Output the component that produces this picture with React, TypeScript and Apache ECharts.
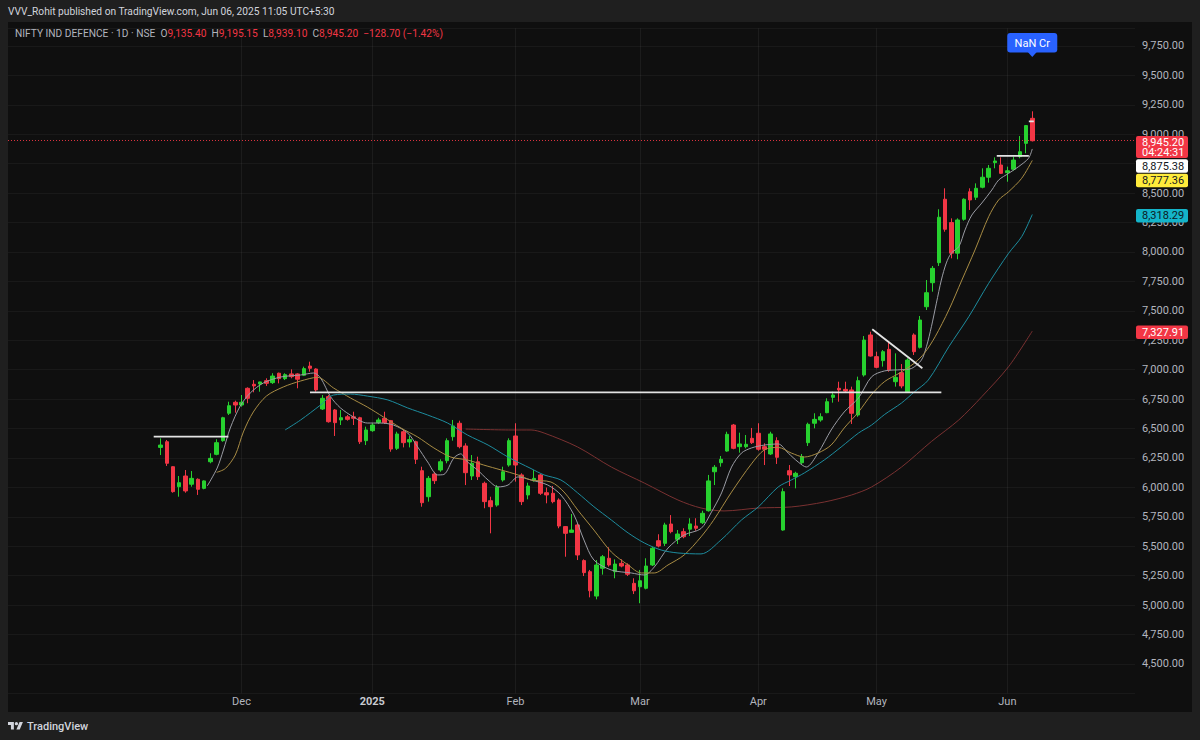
import React, { useEffect, useRef } from "react";
import * as echarts from "echarts";

// ---------- data ----------
const PAD_LEFT = 24;
const PAD_RIGHT = 16;

const opens = [6340,6388,6176,6006,6097,6027,6069,5992,6218,6281, 6397,6630,6723,6700,6842,6876,6879,6907,6890,6970, 6924,6964,6964,6953,7031,7006,6666,6771,6658,6573, 6600,6600,6592,6397,6482,6550,6587,6567,6332,6473, 6386,6388,6142,5921,6114,6148,6227,6431,6545,6352, 6097,6218,6035,5887,5850,6063,6190,6437,6106,5936, 6057,6106,5955,5950,5893,5667,5618,5681,5378,5284, 5077,5313,5398,5284,5355,5341,5185,5156,5143,5341, 5547,5525,5689,5559,5624,5645,5672,5700,5802,6133, 6210,6309,6530,6346,6346,6417,6460,6346,6284,6397, 5638,6142,6091,6210,6380,6545,6573,6635,6765,6842, 6833,6828,6615,6955,7295,7111,7077,7173,6898,6975, 6813,7295,7190,7535,7739,7909,8448,8250,7990,8278, 8512,8465,8550,8635,8759,8739,8674,8703,8810,8923, 9135.40];
const highs = [6417,6403,6180,6097,6148,6139,6077,6060,6290,6409, 6600,6728,6737,6785,6850,6912,6898,6927,6970,6975, 6970,7003,6970,7026,7068,7012,6785,6785,6666,6658, 6615,6643,6600,6516,6545,6592,6643,6573,6473,6488, 6437,6397,6176,6097,6133,6239,6417,6573,6567,6375, 6275,6261,6049,5921,6020,6176,6417,6545,6120,6040, 6148,6114,5999,6012,5907,5672,5774,5695,5389,5299, 5383,5426,5491,5389,5389,5355,5228,5299,5398,5497, 5602,5700,5765,5638,5653,5738,5738,5802,6106,6190, 6267,6473,6539,6465,6445,6505,6545,6375,6473,6426, 5992,6190,6133,6284,6550,6630,6630,6757,6813,6898, 6898,6856,6941,7286,7323,7153,7167,7238,7139,7048, 7097,7309,7456,7762,7881,8363,8541,8286,8286,8456, 8541,8583,8711,8739,8804,8804,8725,8810,8985,9079, 9195.15];
const lows = [6275,6182,5955,5921,5955,6006,5936,5984,6205,6273, 6388,6615,6635,6686,6715,6808,6813,6862,6879,6884, 6912,6927,6842,6946,6983,6813,6658,6550,6437,6530, 6567,6530,6369,6360,6473,6539,6539,6303,6318,6340, 6340,6199,5836,5879,6029,6133,6205,6397,6332,6020, 6063,6063,5823,5610,5836,6049,6176,6049,5850,5899, 6049,5936,5865,5865,5653,5411,5616,5383,5247,5066, 5049,5259,5327,5228,5321,5247,5094,5016,5134,5332, 5491,5502,5610,5519,5568,5587,5632,5689,5794,6020, 6176,6303,6324,6295,6332,6369,6312,6190,6275,6199, 5632,6012,5992,6199,6352,6502,6558,6630,6720,6728, 6805,6539,6600,6941,7111,7012,7026,6983,6856,6842, 6805,7125,7180,7507,7663,7881,8172,7946,7938,8266, 8357,8442,8541,8589,8711,8663,8597,8691,8796,8839, 8939.10];
const closes = [6360,6205,5964,6040,5970,6077,5984,6055,6247,6380, 6592,6694,6700,6723,6757,6862,6896,6884,6946,6924, 6958,6941,6919,7009,7012,6828,6757,6558,6550,6592, 6578,6587,6388,6488,6530,6573,6550,6326,6454,6380, 6406,6239,5870,6077,6057,6218,6397,6522,6346,6125, 6205,6091,5879,5836,6001,6133,6397,6190,5879,6012, 6077,5950,5936,5879,5672,5610,5638,5426,5276,5122, 5341,5411,5341,5349,5332,5262,5122,5207,5332,5483, 5502,5681,5624,5604,5581,5690,5653,5780,6055,6171, 6239,6451,6332,6369,6366,6380,6324,6324,6454,6256, 5964,6106,6120,6261,6536,6578,6600,6728,6785,6828, 6819,6630,6907,7252,7116,7020,7153,6997,6935,6862, 7082,7153,7422,7654,7861,8295,8193,7990,8272,8448, 8442,8541,8635,8711,8773,8668,8690,8781,8852,9073.90, 8945.20];

const monthLabels = ["Dec", "2025", "Feb", "Mar", "Apr", "May", "Jun"];
const monthStartBars = [13, 34, 57, 77, 96, 115, 136];

// moving averages: [bar index, value]
const ma5Points = [[7.5,6012],[9.1,6165],[10.1,6318],[11.2,6505],[12.8,6692],[14.4,6802],[16.5,6887],[19.3,6938],[22.5,6955],[24.6,6972],[25.7,6930],[27.3,6771],[28.9,6675],[31.0,6598],[33.2,6547],[35.3,6547],[37.4,6530],[39.7,6462],[41.3,6343],[42.9,6216],[44.5,6106],[45.5,6110],[47.1,6250],[48.2,6285],[49.3,6216],[50.9,6148],[52.6,6063],[54.2,6004],[55.8,6020],[57.4,6089],[59.5,6063],[62.2,6020],[64.3,5936],[66.4,5766],[68.0,5553],[69.6,5383],[72.4,5298],[75.6,5273],[77.7,5256],[79.3,5324],[81.5,5485],[84.1,5596],[86.8,5650],[88.4,5783],[90.1,5953],[91.7,6173],[93.3,6292],[94.9,6335],[97.0,6360],[99.2,6369],[100.8,6292],[102.4,6216],[103.7,6173],[105.6,6292],[107.7,6488],[109.8,6641],[112.1,6760],[114.2,6940],[116.3,6990],[119.0,7000],[120.6,7010],[122.2,7082],[123.0,7195],[123.8,7365],[124.6,7565],[125.4,7762],[126.2,7907],[127.0,7991],[128.2,8045],[129.2,8187],[130.3,8314],[131.9,8416],[133.5,8526],[134.6,8611],[136.2,8668],[137.8,8725],[139.4,8796],[140,8875.38]];
const ma10Points = [[9.0,6128],[10.4,6160],[12.0,6275],[13.3,6471],[14.9,6641],[17.0,6776],[19.7,6853],[22.5,6904],[25.2,6935],[27.8,6844],[30.5,6760],[33.2,6683],[35.8,6598],[38.6,6505],[41.3,6428],[43.9,6335],[46.6,6258],[49.3,6233],[51.9,6190],[54.7,6148],[57.4,6106],[59.5,6063],[62.7,6046],[64.8,5961],[67.0,5808],[69.6,5638],[72.4,5451],[75.1,5341],[77.2,5273],[79.3,5273],[81.5,5341],[84.1,5426],[86.8,5580],[88.8,5720],[91.7,5960],[94.9,6200],[97.0,6320],[99.2,6340],[101.3,6292],[103.4,6258],[105.6,6292],[107.7,6360],[109.8,6505],[112.1,6641],[114.2,6790],[116.3,6900],[118.6,6969],[121.1,7057],[122.7,7142],[124.4,7280],[126.6,7507],[128.7,7762],[130.8,8017],[133.0,8300],[134.6,8442],[136.2,8512],[138.3,8626],[140,8777.36]];
const ma20Points = [[20.0,6488],[22.5,6573],[25.7,6700],[27.8,6785],[30.5,6793],[33.2,6776],[36.5,6743],[39.7,6675],[42.9,6615],[46.1,6547],[49.3,6445],[52.6,6360],[55.8,6258],[59.5,6160],[61.6,6106],[64.3,6063],[67.0,5953],[69.6,5836],[72.4,5723],[75.1,5613],[77.7,5528],[80.4,5468],[83.1,5443],[86.8,5435],[90.0,5553],[93.3,5723],[96.0,5834],[99.2,6004],[101.3,6063],[103.4,6123],[106.6,6233],[109.3,6343],[112.1,6462],[114.2,6530],[116.3,6620],[119.0,6717],[121.1,6813],[123.3,6912],[126.6,7195],[129.8,7450],[133.0,7734],[136.2,7989],[138.3,8130],[140,8318.29]];
const ma50Points = [[49.0,6496],[56.3,6488],[59.5,6488],[61.6,6462],[67.0,6343],[72.4,6173],[77.7,6037],[83.1,5893],[86.8,5825],[90.5,5800],[96.0,5825],[101.3,5834],[106.6,5876],[111.0,5936],[114.2,6004],[119.0,6173],[123.8,6390],[128.2,6573],[131.9,6771],[136.2,7026],[140,7327.91]];

// hand-drawn trend lines: [[bar, price], [bar, price]]
const drawnLines = [
  [[-1.1, 6431], [10.9, 6431]],
  [[24.0, 6808], [125.4, 6808]],
  [[114.3, 7343], [122.35, 7012]],
  [[134.3, 8816], [139.45, 8816]],
  [[139.45, 9110], [140.25, 9110]],
];

const yMin = 4250;
const yMax = 9900;
const yStep = 250;
const yLabelMin = 4500;
const yLabelMax = 9750;
const yTicksCoveredByBadges = [8750];

const symbolTitle = "NIFTY IND DEFENCE · 1D · NSE";
const publishedText = "VVV_Rohit published on TradingView.com, Jun 06, 2025 11:05 UTC+5:30";
const lastChange = -128.7;
const lastChangePct = -1.42;
const timerText = "04:24:31";
const volumeBadgeText = "NaN Cr";
const maLastValues = [8875.38, 8777.36, 8318.29, 7327.91];

// ---------- styles ----------
const FONT = 'Roboto, "Noto Sans", "DejaVu Sans", sans-serif';
const UP = "#27d12f";
const DOWN = "#f23645";
const TEXT = "#b2b5be";
const MA_COLORS = ["#9a9ca4", "#a88c44", "#1d8c9e", "#7a3131"];

const fmt = (v: number) =>
  v.toLocaleString("en-US", { minimumFractionDigits: 2, maximumFractionDigits: 2 });

const tvPath =
  "M14 22H7V11H0V4h14v18z M28 22h-8l7.5-18h8L28 22z M16 8a4 4 0 1 0 8 0a4 4 0 1 0 -8 0z";

let registered = false;

export default function App() {
  const ref = useRef<HTMLDivElement>(null);

  useEffect(() => {
    if (!ref.current) return;
    if (!registered) {
      echarts.graphic.registerShape("tvlogo", echarts.graphic.extendPath(tvPath, {}) as any);
      registered = true;
    }
    const chart = echarts.init(ref.current, null, { renderer: "svg" });
    const n = opens.length;
    const total = PAD_LEFT + n + PAD_RIGHT;
    const cats = Array.from({ length: total }, (_, i) => String(i));
    const labelAt: Record<number, string> = {};
    monthStartBars.forEach((b, k) => {
      labelAt[b + PAD_LEFT] = monthLabels[k];
    });
    const candleData = opens.map((o, i) => [i + PAD_LEFT, o, closes[i], lows[i], highs[i]]);
    const last = n - 1;

    const maSeries = [ma5Points, ma10Points, ma20Points, ma50Points].map((pts, k) => ({
      type: "line",
      xAxisIndex: 1,
      yAxisIndex: 0,
      data: pts,
      smooth: 0.3,
      showSymbol: false,
      silent: true,
      z: k === 3 ? 1 : 3,
      lineStyle: { color: MA_COLORS[k], width: 1 },
      markLine:
        k === 3
          ? {
              silent: true,
              symbol: ["none", "none"],
              label: { show: false },
              lineStyle: { color: "rgba(255,255,255,0.055)", type: "solid", width: 1 },
              data: monthStartBars.map((b) => ({ xAxis: b })),
            }
          : undefined,
    }));

    const lineSeries = drawnLines.map((seg) => ({
      type: "line",
      xAxisIndex: 1,
      yAxisIndex: 0,
      data: seg,
      showSymbol: false,
      silent: true,
      z: 4,
      lineStyle: { color: "#e4e4e4", width: 1.8 },
    }));

    const option: any = {
      animation: false,
      backgroundColor: "#0f0f0f",
      grid: { left: 8, right: 65, top: 28.34, bottom: 46.6, containLabel: false },
      xAxis: [
        {
          type: "category",
          data: cats,
          boundaryGap: true,
          axisLine: { show: false },
          axisTick: { show: false },
          splitLine: { show: false },
          axisLabel: {
            interval: (idx: number) => labelAt[idx] !== undefined,
            formatter: (_v: string, idx: number) =>
              labelAt[idx] === "2025" ? "{b|2025}" : labelAt[idx] || "",
            color: TEXT,
            fontSize: 11,
            fontFamily: FONT,
            margin: 3,
            hideOverlap: false,
            rich: { b: { fontWeight: "bold", color: "#c8cad0", fontSize: 11, fontFamily: FONT } },
          },
        },
        {
          type: "value",
          min: -PAD_LEFT - 0.5,
          max: n + PAD_RIGHT - 0.5,
          show: false,
        },
      ],
      yAxis: {
        type: "value",
        position: "right",
        min: yMin,
        max: yMax,
        interval: yStep,
        axisLine: { show: false },
        axisTick: { show: false },
        splitLine: { lineStyle: { color: "rgba(255,255,255,0.045)", width: 1 } },
        axisLabel: {
          color: TEXT,
          fontSize: 11,
          fontFamily: FONT,
          margin: 7,
          formatter: (v: number) =>
            v < yLabelMin || v > yLabelMax || yTicksCoveredByBadges.includes(v) ? "" : fmt(v),
        },
      },
      series: [
        {
          type: "candlestick",
          xAxisIndex: 0,
          yAxisIndex: 0,
          dimensions: ["idx", "open", "close", "lowest", "highest"],
          encode: { x: 0, y: [1, 2, 3, 4] },
          data: candleData,
          barWidth: 4,
          z: 2,
          itemStyle: {
            color: UP,
            color0: DOWN,
            borderColor: UP,
            borderColor0: DOWN,
            borderWidth: 1,
          },
          markLine: {
            silent: true,
            symbol: ["none", "none"],
            label: { show: false },
            data: [
              {
                yAxis: closes[last],
                lineStyle: { color: DOWN, type: [1, 2], width: 1, opacity: 0.9 },
              },
            ],
          },
        },
        ...maSeries,
        ...lineSeries,
      ],
    };
    chart.setOption(option);

    const py = (v: number) => chart.convertToPixel({ yAxisIndex: 0 }, v) as number;
    const px = (idx: number) => chart.convertToPixel({ xAxisIndex: 0 }, idx) as number;

    const FR = "#1f1f1f";
    const g: any[] = [];
    // frame around the panel
    g.push({ type: "rect", shape: { x: 0, y: 0, width: 1200, height: 22 }, style: { fill: FR }, z: 100, silent: true });
    g.push({ type: "rect", shape: { x: 0, y: 0, width: 8, height: 740 }, style: { fill: FR }, z: 100, silent: true });
    g.push({ type: "rect", shape: { x: 1192, y: 0, width: 8, height: 740 }, style: { fill: FR }, z: 100, silent: true });
    g.push({ type: "rect", shape: { x: 0, y: 712, width: 1200, height: 28 }, style: { fill: FR }, z: 100, silent: true });

    g.push({
      type: "text",
      x: 8,
      y: 11,
      z: 101,
      silent: true,
      style: { text: publishedText, fill: "#d1d4dc", fontSize: 10.2, fontFamily: FONT, verticalAlign: "middle" },
    });

    const sign = lastChange < 0 ? "−" : "+";
    const chg = `${sign}${fmt(Math.abs(lastChange))} (${sign}${Math.abs(lastChangePct).toFixed(2)}%)`;
    const legend =
      `{n|${symbolTitle}}  {k|O}{v|${fmt(opens[last])}}  {k|H}{v|${fmt(highs[last])}}  ` +
      `{k|L}{v|${fmt(lows[last])}}  {k|C}{v|${fmt(closes[last])}}  {v|${chg}}`;
    const rs = { fontSize: 10.2, fontFamily: FONT };
    g.push({
      type: "text",
      x: 15,
      y: 33.5,
      z: 101,
      silent: true,
      style: {
        text: legend,
        verticalAlign: "middle",
        fontSize: 10.2,
        fontFamily: FONT,
        fill: TEXT,
        rich: {
          n: { ...rs, fill: TEXT },
          k: { ...rs, fill: TEXT },
          v: { ...rs, fill: DOWN },
        },
      },
    });

    // price badges on the right scale
    const BX = 1136;
    const BW = 52;
    const TX = 1142;
    const pC = py(closes[last]);
    const badge = (top: number, h: number, fill: string) => ({
      type: "rect",
      z: 102,
      silent: true,
      shape: { x: BX, y: top, width: BW, height: h, r: 2 },
      style: { fill },
    });
    const btext = (text: string, y: number, fill: string) => ({
      type: "text",
      x: TX,
      y,
      z: 103,
      silent: true,
      style: { text, fill, fontSize: 11, fontFamily: FONT, verticalAlign: "middle" },
    });
    g.push(badge(pC - 4.8, 22, DOWN));
    g.push(btext(fmt(closes[last]), pC + 1.3, "#ffffff"));
    g.push(btext(timerText, pC + 11.8, "#ffffff"));
    g.push(badge(pC + 18.5, 13.5, "#ffffff"));
    g.push(btext(fmt(maLastValues[0]), pC + 25.4, "#131722"));
    g.push(badge(pC + 33, 13.5, "#ffeb3b"));
    g.push(btext(fmt(maLastValues[1]), pC + 39.9, "#131722"));
    const p20 = py(maLastValues[2]);
    g.push(badge(p20 - 5.5, 13.5, "#14b4c9"));
    g.push(btext(fmt(maLastValues[2]), p20 + 1.3, "#0c1a24"));
    const p50 = py(maLastValues[3]);
    g.push(badge(p50 - 5.5, 13.5, DOWN));
    g.push(btext(fmt(maLastValues[3]), p50 + 1.3, "#ffffff"));

    // volume badge above the last bar
    const lx = px(last + PAD_LEFT);
    g.push({
      type: "rect",
      z: 102,
      silent: true,
      shape: { x: lx - 25, y: 33, width: 50, height: 19.5, r: 3 },
      style: { fill: "#2962ff" },
    });
    g.push({
      type: "polygon",
      z: 102,
      silent: true,
      shape: { points: [[lx - 4.5, 52], [lx + 4.5, 52], [lx, 57]] },
      style: { fill: "#2962ff" },
    });
    g.push({
      type: "text",
      x: lx,
      y: 43,
      z: 103,
      silent: true,
      style: { text: volumeBadgeText, fill: "#ffffff", fontSize: 11, fontFamily: FONT, align: "center", verticalAlign: "middle" },
    });

    // TradingView logo
    g.push({
      type: "tvlogo",
      x: 8,
      y: 720.3,
      scaleX: 0.42,
      scaleY: 0.42,
      z: 101,
      silent: true,
      style: { fill: "#d1d4dc" },
    });
    g.push({
      type: "text",
      x: 27,
      y: 726,
      z: 101,
      silent: true,
      style: { text: "TradingView", fill: "#d1d4dc", fontSize: 11, fontWeight: 500, fontFamily: FONT, verticalAlign: "middle" },
    });

    chart.setOption({ graphic: g });

    return () => chart.dispose();
  }, []);

  return (
    <div
      ref={ref}
      style={{ position: "fixed", left: 0, top: 0, width: 1200, height: 740 }}
    />
  );
}
